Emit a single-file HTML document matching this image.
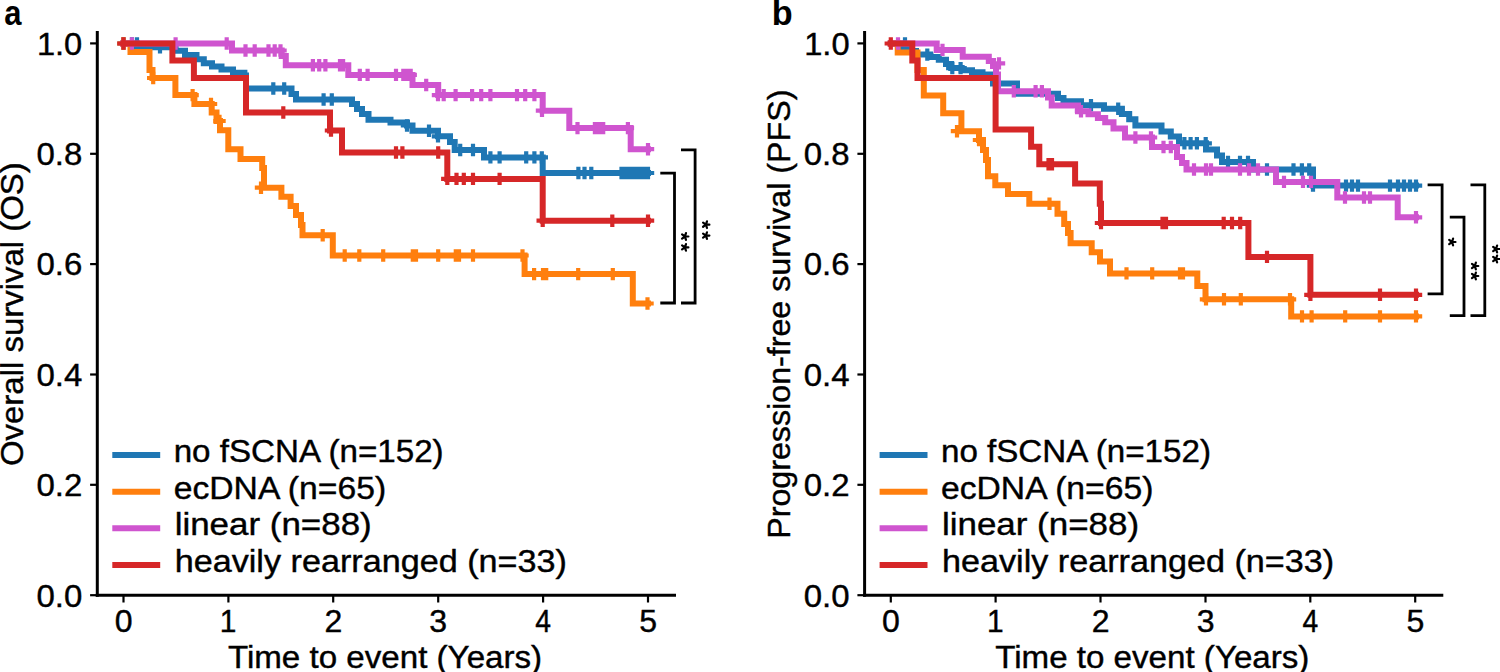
<!DOCTYPE html>
<html><head><meta charset="utf-8"><style>
html,body{margin:0;padding:0;background:#fff;}
svg{display:block;}
text{font-family:"Liberation Sans", sans-serif;font-size:31px;fill:#000;stroke:#000;stroke-width:0.4px;}
</style></head><body>
<svg width="1500" height="672" viewBox="0 0 1500 672">
<rect width="1500" height="672" fill="#fff"/>
<path d="M97.3 31V596.7" stroke="#000" stroke-width="3.0" fill="none"/>
<path d="M95.8 595.2H676.0" stroke="#000" stroke-width="3.0" fill="none"/>
<path d="M90.1 595.2H97.3" stroke="#000" stroke-width="2.2" fill="none"/>
<text x="36.44" y="606.50" textLength="45.84" lengthAdjust="spacingAndGlyphs" >0.0</text>
<path d="M90.1 484.8H97.3" stroke="#000" stroke-width="2.2" fill="none"/>
<text x="36.44" y="496.14" textLength="45.84" lengthAdjust="spacingAndGlyphs" >0.2</text>
<path d="M90.1 374.5H97.3" stroke="#000" stroke-width="2.2" fill="none"/>
<text x="36.44" y="385.78" textLength="45.84" lengthAdjust="spacingAndGlyphs" >0.4</text>
<path d="M90.1 264.1H97.3" stroke="#000" stroke-width="2.2" fill="none"/>
<text x="36.44" y="275.42" textLength="45.84" lengthAdjust="spacingAndGlyphs" >0.6</text>
<path d="M90.1 153.8H97.3" stroke="#000" stroke-width="2.2" fill="none"/>
<text x="36.44" y="165.06" textLength="45.84" lengthAdjust="spacingAndGlyphs" >0.8</text>
<path d="M90.1 43.4H97.3" stroke="#000" stroke-width="2.2" fill="none"/>
<text x="36.90" y="54.70" textLength="45.37" lengthAdjust="spacingAndGlyphs" >1.0</text>
<path d="M123.5 595.2V602.5" stroke="#000" stroke-width="2.2" fill="none"/>
<text x="114.67" y="631.60" textLength="17.82" lengthAdjust="spacingAndGlyphs" >0</text>
<path d="M228.4 595.2V602.5" stroke="#000" stroke-width="2.2" fill="none"/>
<text x="219.67" y="631.60" textLength="16.63" lengthAdjust="spacingAndGlyphs" >1</text>
<path d="M333.2 595.2V602.5" stroke="#000" stroke-width="2.2" fill="none"/>
<text x="324.47" y="631.60" textLength="17.83" lengthAdjust="spacingAndGlyphs" >2</text>
<path d="M438.2 595.2V602.5" stroke="#000" stroke-width="2.2" fill="none"/>
<text x="429.37" y="631.60" textLength="17.83" lengthAdjust="spacingAndGlyphs" >3</text>
<path d="M543.1 595.2V602.5" stroke="#000" stroke-width="2.2" fill="none"/>
<text x="535.30" y="631.60" textLength="15.73" lengthAdjust="spacingAndGlyphs" >4</text>
<path d="M648.0 595.2V602.5" stroke="#000" stroke-width="2.2" fill="none"/>
<text x="639.17" y="631.60" textLength="17.83" lengthAdjust="spacingAndGlyphs" >5</text>
<text x="227.90" y="667.90" textLength="314.22" lengthAdjust="spacingAndGlyphs" >Time to event (Years)</text>
<text transform="translate(23.00 465.00) rotate(-90)" x="-1.06" y="0.00" textLength="303.82" lengthAdjust="spacingAndGlyphs" >Overall survival (OS)</text>
<text x="4.22" y="24.50" textLength="17.21" lengthAdjust="spacingAndGlyphs" style="font-weight:bold;font-size:35px;stroke:none">a</text>
<path d="M112.3 455.0H160.2" stroke="#1f77b4" stroke-width="6" fill="none"/>
<text x="173.66" y="462.20" textLength="269.99" lengthAdjust="spacingAndGlyphs" >no fSCNA (n=152)</text>
<path d="M112.3 491.7H160.2" stroke="#ff7f0e" stroke-width="6" fill="none"/>
<text x="173.71" y="498.70" textLength="212.40" lengthAdjust="spacingAndGlyphs" >ecDNA (n=65)</text>
<path d="M112.3 528.3H160.2" stroke="#cf55cf" stroke-width="6" fill="none"/>
<text x="174.65" y="535.20" textLength="197.10" lengthAdjust="spacingAndGlyphs" >linear (n=88)</text>
<path d="M112.3 565.0H160.2" stroke="#d62728" stroke-width="6" fill="none"/>
<text x="174.70" y="571.70" textLength="392.15" lengthAdjust="spacingAndGlyphs" >heavily rearranged (n=33)</text>
<path d="M864.6 31V596.7" stroke="#000" stroke-width="3.0" fill="none"/>
<path d="M863.1 595.2H1443.3" stroke="#000" stroke-width="3.0" fill="none"/>
<path d="M857.4 595.2H864.6" stroke="#000" stroke-width="2.2" fill="none"/>
<text x="803.74" y="606.50" textLength="45.84" lengthAdjust="spacingAndGlyphs" >0.0</text>
<path d="M857.4 484.8H864.6" stroke="#000" stroke-width="2.2" fill="none"/>
<text x="803.74" y="496.14" textLength="45.84" lengthAdjust="spacingAndGlyphs" >0.2</text>
<path d="M857.4 374.5H864.6" stroke="#000" stroke-width="2.2" fill="none"/>
<text x="803.74" y="385.78" textLength="45.84" lengthAdjust="spacingAndGlyphs" >0.4</text>
<path d="M857.4 264.1H864.6" stroke="#000" stroke-width="2.2" fill="none"/>
<text x="803.74" y="275.42" textLength="45.84" lengthAdjust="spacingAndGlyphs" >0.6</text>
<path d="M857.4 153.8H864.6" stroke="#000" stroke-width="2.2" fill="none"/>
<text x="803.74" y="165.06" textLength="45.84" lengthAdjust="spacingAndGlyphs" >0.8</text>
<path d="M857.4 43.4H864.6" stroke="#000" stroke-width="2.2" fill="none"/>
<text x="804.19" y="54.70" textLength="45.37" lengthAdjust="spacingAndGlyphs" >1.0</text>
<path d="M890.8 595.2V602.5" stroke="#000" stroke-width="2.2" fill="none"/>
<text x="881.97" y="631.60" textLength="17.83" lengthAdjust="spacingAndGlyphs" >0</text>
<path d="M995.6 595.2V602.5" stroke="#000" stroke-width="2.2" fill="none"/>
<text x="986.97" y="631.60" textLength="16.63" lengthAdjust="spacingAndGlyphs" >1</text>
<path d="M1100.5 595.2V602.5" stroke="#000" stroke-width="2.2" fill="none"/>
<text x="1091.77" y="631.60" textLength="17.83" lengthAdjust="spacingAndGlyphs" >2</text>
<path d="M1205.5 595.2V602.5" stroke="#000" stroke-width="2.2" fill="none"/>
<text x="1196.67" y="631.60" textLength="17.83" lengthAdjust="spacingAndGlyphs" >3</text>
<path d="M1310.3 595.2V602.5" stroke="#000" stroke-width="2.2" fill="none"/>
<text x="1302.60" y="631.60" textLength="15.73" lengthAdjust="spacingAndGlyphs" >4</text>
<path d="M1415.2 595.2V602.5" stroke="#000" stroke-width="2.2" fill="none"/>
<text x="1406.47" y="631.60" textLength="17.83" lengthAdjust="spacingAndGlyphs" >5</text>
<text x="995.20" y="667.90" textLength="314.22" lengthAdjust="spacingAndGlyphs" >Time to event (Years)</text>
<text transform="translate(790.00 536.70) rotate(-90)" x="-2.08" y="0.00" textLength="449.14" lengthAdjust="spacingAndGlyphs" >Progression-free survival (PFS)</text>
<text x="771.74" y="24.50" textLength="20.92" lengthAdjust="spacingAndGlyphs" style="font-weight:bold;font-size:35px;stroke:none">b</text>
<path d="M879.6 455.0H927.5" stroke="#1f77b4" stroke-width="6" fill="none"/>
<text x="940.96" y="462.20" textLength="269.99" lengthAdjust="spacingAndGlyphs" >no fSCNA (n=152)</text>
<path d="M879.6 491.7H927.5" stroke="#ff7f0e" stroke-width="6" fill="none"/>
<text x="941.01" y="498.70" textLength="212.40" lengthAdjust="spacingAndGlyphs" >ecDNA (n=65)</text>
<path d="M879.6 528.3H927.5" stroke="#cf55cf" stroke-width="6" fill="none"/>
<text x="941.95" y="535.20" textLength="197.10" lengthAdjust="spacingAndGlyphs" >linear (n=88)</text>
<path d="M879.6 565.0H927.5" stroke="#d62728" stroke-width="6" fill="none"/>
<text x="942.00" y="571.70" textLength="392.15" lengthAdjust="spacingAndGlyphs" >heavily rearranged (n=33)</text>
<path d="M123.5 43.5H137.0V47.2H175.6V50.8H185.0V55.0H196.5V59.2H203.8V63.3H212.0V66.5H221.5V69.6H233.0V72.7H244.4V75.5H246.0V88.5H291.5V94.0H296.0V99.5H352.0V104.0H357.0V109.0H362.0V114.0H368.5V119.8H390.5V122.5H407.0V125.5H412.5V130.8H438.0V136.3H450.0V142.0H454.7V150.0H484.0V157.4H542.7V173.0H648.0" fill="none" stroke="#1f77b4" stroke-width="6.0" stroke-linejoin="miter" stroke-linecap="square"/>
<path d="M117.3 43.5h12.4M123.5 37.3v12.4M125.8 43.5h12.4M132.0 37.3v12.4M130.8 43.5h12.4M137.0 37.3v12.4M153.8 47.2h12.4M160.0 41.0v12.4M267.1 88.5h12.4M273.3 82.3v12.4M278.0 88.5h12.4M284.2 82.3v12.4M317.4 99.5h12.4M323.6 93.3v12.4M325.6 99.5h12.4M331.8 93.3v12.4M400.8 125.5h12.4M407.0 119.3v12.4M422.8 130.8h12.4M429.0 124.6v12.4M431.8 136.3h12.4M438.0 130.1v12.4M454.0 150.0h12.4M460.2 143.8v12.4M466.8 150.0h12.4M473.0 143.8v12.4M484.2 157.4h12.4M490.4 151.2v12.4M493.4 157.4h12.4M499.6 151.2v12.4M520.0 157.4h12.4M526.2 151.2v12.4M528.2 157.4h12.4M534.4 151.2v12.4M535.6 157.4h12.4M541.8 151.2v12.4M572.2 173.0h12.4M578.4 166.8v12.4M578.3 173.0h12.4M584.5 166.8v12.4M585.1 173.0h12.4M591.3 166.8v12.4M615.3 173.0h12.4M621.5 166.8v12.4M618.8 173.0h12.4M625.0 166.8v12.4M622.6 173.0h12.4M628.8 166.8v12.4M625.8 173.0h12.4M632.0 166.8v12.4M628.1 173.0h12.4M634.3 166.8v12.4M630.8 173.0h12.4M637.0 166.8v12.4M633.6 173.0h12.4M639.8 166.8v12.4M636.3 173.0h12.4M642.5 166.8v12.4M639.1 173.0h12.4M645.3 166.8v12.4M641.8 173.0h12.4M648.0 166.8v12.4" fill="none" stroke="#1f77b4" stroke-width="4.2"/>
<path d="M123.5 43.5H130.5V52.0H149.5V70.0H152.5V78.0H175.4V95.1H194.4V104.0H211.7V112.4H216.5V121.0H220.0V130.2H228.3V149.3H240.5V159.0H262.2V168.0H264.0V187.7H281.4V196.8H290.6V206.0H296.0V215.0H301.0V225.0H302.5V235.3H332.8V255.5H524.6V274.1H632.8V303.5H648.0" fill="none" stroke="#ff7f0e" stroke-width="6.0" stroke-linejoin="miter" stroke-linecap="square"/>
<path d="M117.3 43.5h12.4M123.5 37.3v12.4M147.0 78.0h12.4M153.2 71.8v12.4M186.4 95.1h12.4M192.6 88.9v12.4M204.8 104.0h12.4M211.0 97.8v12.4M213.3 121.0h12.4M219.5 114.8v12.4M254.8 187.7h12.4M261.0 181.5v12.4M316.5 235.3h12.4M322.7 229.1v12.4M338.5 255.5h12.4M344.7 249.3v12.4M353.1 255.5h12.4M359.3 249.3v12.4M377.0 255.5h12.4M383.2 249.3v12.4M406.6 255.5h12.4M412.8 249.3v12.4M409.8 255.5h12.4M416.0 249.3v12.4M432.0 255.5h12.4M438.2 249.3v12.4M449.6 255.5h12.4M455.8 249.3v12.4M452.8 255.5h12.4M459.0 249.3v12.4M466.8 255.5h12.4M473.0 249.3v12.4M516.3 255.5h12.4M522.5 249.3v12.4M527.9 274.1h12.4M534.1 267.9v12.4M536.8 274.1h12.4M543.0 267.9v12.4M540.0 274.1h12.4M546.2 267.9v12.4M572.0 274.1h12.4M578.2 267.9v12.4M606.6 274.1h12.4M612.8 267.9v12.4M641.3 303.5h12.4M647.5 297.3v12.4" fill="none" stroke="#ff7f0e" stroke-width="4.2"/>
<path d="M123.5 43.5H232.0V50.5H281.7V56.0H285.8V65.3H348.3V74.9H412.5V85.0H438.2V95.1H542.7V110.7H569.3V128.1H630.7V149.2H648.0" fill="none" stroke="#cf55cf" stroke-width="6.0" stroke-linejoin="miter" stroke-linecap="square"/>
<path d="M125.7 43.5h12.4M131.9 37.3v12.4M169.4 43.5h12.4M175.6 37.3v12.4M220.5 43.5h12.4M226.7 37.3v12.4M239.3 50.5h12.4M245.5 44.3v12.4M248.5 50.5h12.4M254.7 44.3v12.4M262.3 50.5h12.4M268.5 44.3v12.4M268.5 50.5h12.4M274.7 44.3v12.4M274.3 50.5h12.4M280.5 44.3v12.4M306.7 65.3h12.4M312.9 59.1v12.4M313.0 65.3h12.4M319.2 59.1v12.4M319.2 65.3h12.4M325.4 59.1v12.4M333.8 65.3h12.4M340.0 59.1v12.4M336.9 65.3h12.4M343.1 59.1v12.4M353.6 74.9h12.4M359.8 68.7v12.4M361.4 74.9h12.4M367.6 68.7v12.4M389.8 74.9h12.4M396.0 68.7v12.4M397.1 74.9h12.4M403.3 68.7v12.4M400.8 74.9h12.4M407.0 68.7v12.4M404.5 74.9h12.4M410.7 68.7v12.4M420.1 85.0h12.4M426.2 78.8v12.4M431.8 95.1h12.4M438.0 88.9v12.4M437.5 95.1h12.4M443.7 88.9v12.4M449.4 95.1h12.4M455.6 88.9v12.4M465.9 95.1h12.4M472.1 88.9v12.4M475.1 95.1h12.4M481.2 88.9v12.4M484.2 95.1h12.4M490.4 88.9v12.4M510.8 95.1h12.4M517.0 88.9v12.4M519.0 95.1h12.4M525.2 88.9v12.4M528.2 95.1h12.4M534.4 88.9v12.4M535.8 110.7h12.4M542.0 104.5v12.4M571.3 128.1h12.4M577.5 121.9v12.4M588.7 128.1h12.4M594.9 121.9v12.4M592.8 128.1h12.4M599.0 121.9v12.4M597.0 128.1h12.4M603.2 121.9v12.4M621.7 128.1h12.4M627.9 121.9v12.4M641.8 149.2h12.4M648.0 143.0v12.4" fill="none" stroke="#cf55cf" stroke-width="4.2"/>
<path d="M123.5 43.5H172.4V60.5H193.9V78.0H246.0V112.5H330.0V130.5H342.0V152.5H447.3V178.9H542.7V220.7H648.0" fill="none" stroke="#d62728" stroke-width="6.0" stroke-linejoin="miter" stroke-linecap="square"/>
<path d="M117.3 43.5h12.4M123.5 37.3v12.4M277.1 112.5h12.4M283.3 106.3v12.4M324.8 130.5h12.4M331.0 124.3v12.4M389.8 152.5h12.4M396.0 146.3v12.4M396.2 152.5h12.4M402.4 146.3v12.4M432.0 152.5h12.4M438.2 146.3v12.4M441.1 178.9h12.4M447.3 172.7v12.4M450.3 178.9h12.4M456.5 172.7v12.4M457.6 178.9h12.4M463.8 172.7v12.4M466.8 178.9h12.4M473.0 172.7v12.4M493.4 178.9h12.4M499.6 172.7v12.4M536.5 220.7h12.4M542.7 214.5v12.4M606.1 220.7h12.4M612.3 214.5v12.4M641.8 220.7h12.4M648.0 214.5v12.4" fill="none" stroke="#d62728" stroke-width="4.2"/>
<path d="M890.8 43.5H900.0V47.5H910.0V51.0H916.0V54.6H930.0V57.0H938.8V59.8H946.0V64.0H951.2V68.1H961.7V70.2H972.0V72.3H982.5V74.4H993.0V83.5H1017.0V93.8H1058.0V98.0H1063.5V101.3H1081.0V105.2H1104.0V108.8H1121.9V114.0H1129.2V119.2H1135.4V125.5H1161.5V131.4H1170.8V136.5H1179.0V143.3H1206.0V149.5H1217.0V155.5H1222.0V162.0H1253.0V169.5H1313.0V185.6H1416.0" fill="none" stroke="#1f77b4" stroke-width="6.0" stroke-linejoin="miter" stroke-linecap="square"/>
<path d="M898.8 43.5h12.4M905.0 37.3v12.4M921.1 54.6h12.4M927.3 48.4v12.4M946.1 68.1h12.4M952.3 61.9v12.4M954.4 68.1h12.4M960.6 61.9v12.4M1084.8 105.2h12.4M1091.0 99.0v12.4M1112.0 108.8h12.4M1118.2 102.5v12.4M1178.2 143.3h12.4M1184.4 137.1v12.4M1184.4 143.3h12.4M1190.6 137.1v12.4M1190.7 143.3h12.4M1196.9 137.1v12.4M1199.5 143.3h12.4M1205.7 137.1v12.4M1221.8 162.0h12.4M1228.0 155.8v12.4M1233.8 162.0h12.4M1240.0 155.8v12.4M1241.8 162.0h12.4M1248.0 155.8v12.4M1260.8 169.5h12.4M1267.0 163.3v12.4M1287.3 169.5h12.4M1293.5 163.3v12.4M1295.7 169.5h12.4M1301.9 163.3v12.4M1303.0 169.5h12.4M1309.2 163.3v12.4M1306.8 185.6h12.4M1313.0 179.4v12.4M1339.8 185.6h12.4M1346.0 179.4v12.4M1345.8 185.6h12.4M1352.0 179.4v12.4M1351.8 185.6h12.4M1358.0 179.4v12.4M1383.8 185.6h12.4M1390.0 179.4v12.4M1391.8 185.6h12.4M1398.0 179.4v12.4M1397.8 185.6h12.4M1404.0 179.4v12.4M1403.8 185.6h12.4M1410.0 179.4v12.4M1409.8 185.6h12.4M1416.0 179.4v12.4" fill="none" stroke="#1f77b4" stroke-width="4.2"/>
<path d="M890.8 43.5H897.7V52.4H917.5V70.0H923.8V95.5H943.2V113.3H961.4V131.2H979.0V140.0H983.0V150.0H986.0V160.0H988.0V176.2H995.3V185.3H1008.0V194.0H1029.3V203.8H1057.5V213.8H1064.2V223.9H1068.0V233.0H1070.6V243.2H1091.7V252.3H1100.0V261.5H1110.0V273.4H1197.3V286.0H1205.5V299.3H1291.2V316.4H1416.0" fill="none" stroke="#ff7f0e" stroke-width="6.0" stroke-linejoin="miter" stroke-linecap="square"/>
<path d="M950.8 131.2h12.4M957.0 125.0v12.4M972.8 140.0h12.4M979.0 133.8v12.4M1043.3 203.8h12.4M1049.5 197.6v12.4M1120.3 273.4h12.4M1126.5 267.2v12.4M1146.0 273.4h12.4M1152.2 267.2v12.4M1173.8 273.4h12.4M1180.0 267.2v12.4M1176.8 273.4h12.4M1183.0 267.2v12.4M1199.8 299.3h12.4M1206.0 293.1v12.4M1217.8 299.3h12.4M1224.0 293.1v12.4M1234.6 299.3h12.4M1240.8 293.1v12.4M1283.8 299.3h12.4M1290.0 293.1v12.4M1295.8 316.4h12.4M1302.0 310.2v12.4M1305.4 316.4h12.4M1311.6 310.2v12.4M1339.0 316.4h12.4M1345.2 310.2v12.4M1373.8 316.4h12.4M1380.0 310.2v12.4M1409.8 316.4h12.4M1416.0 310.2v12.4" fill="none" stroke="#ff7f0e" stroke-width="4.2"/>
<path d="M890.8 43.5H936.7V49.9H962.7V56.7H988.8V61.0H993.0V66.0H996.0V74.4H998.0V91.2H1048.0V97.5H1051.7V105.4H1078.0V111.2H1088.5V114.3H1097.9V118.0H1105.2V122.3H1113.5V128.5H1125.0V137.5H1152.0V147.0H1177.0V157.0H1182.0V163.0H1186.5V169.5H1276.0V181.9H1337.3V197.5H1397.7V217.3H1416.0" fill="none" stroke="#cf55cf" stroke-width="6.0" stroke-linejoin="miter" stroke-linecap="square"/>
<path d="M891.8 43.5h12.4M898.0 37.3v12.4M936.3 49.9h12.4M942.5 43.7v12.4M992.8 63.4h12.4M999.0 57.2v12.4M1007.5 91.2h12.4M1013.8 85.0v12.4M1029.4 91.2h12.4M1035.6 85.0v12.4M1035.7 91.2h12.4M1041.9 85.0v12.4M1074.8 111.2h12.4M1081.0 105.0v12.4M1129.2 137.5h12.4M1135.4 131.3v12.4M1144.8 137.5h12.4M1151.0 131.3v12.4M1157.3 147.0h12.4M1163.5 140.8v12.4M1164.6 147.0h12.4M1170.8 140.8v12.4M1187.8 169.5h12.4M1194.0 163.3v12.4M1199.8 169.5h12.4M1206.0 163.3v12.4M1204.8 169.5h12.4M1211.0 163.3v12.4M1233.8 169.5h12.4M1240.0 163.3v12.4M1242.8 169.5h12.4M1249.0 163.3v12.4M1251.8 169.5h12.4M1258.0 163.3v12.4M1277.8 181.9h12.4M1284.0 175.7v12.4M1296.8 181.9h12.4M1303.0 175.7v12.4M1304.8 181.9h12.4M1311.0 175.7v12.4M1338.8 197.5h12.4M1345.0 191.3v12.4M1357.8 197.5h12.4M1364.0 191.3v12.4M1363.8 197.5h12.4M1370.0 191.3v12.4M1409.8 217.3h12.4M1416.0 211.1v12.4" fill="none" stroke="#cf55cf" stroke-width="4.2"/>
<path d="M890.8 43.5H912.3V60.5H917.5V78.0H995.6V129.4H1031.1V146.8H1039.3V164.2H1075.1V183.5H1099.8V203.7H1101.0V223.0H1248.4V256.9H1310.4V294.8H1416.0" fill="none" stroke="#d62728" stroke-width="6.0" stroke-linejoin="miter" stroke-linecap="square"/>
<path d="M884.6 43.5h12.4M890.8 37.3v12.4M1042.3 164.2h12.4M1048.5 158.1v12.4M1045.8 164.2h12.4M1052.0 158.1v12.4M1094.8 223.0h12.4M1101.0 216.8v12.4M1156.3 223.0h12.4M1162.5 216.8v12.4M1159.8 223.0h12.4M1166.0 216.8v12.4M1217.5 223.0h12.4M1223.7 216.8v12.4M1225.8 223.0h12.4M1232.0 216.8v12.4M1234.0 223.0h12.4M1240.2 216.8v12.4M1260.8 256.9h12.4M1267.0 250.7v12.4M1304.2 294.8h12.4M1310.4 288.6v12.4M1373.8 294.8h12.4M1380.0 288.6v12.4M1409.8 294.8h12.4M1416.0 288.6v12.4" fill="none" stroke="#d62728" stroke-width="4.2"/>
<path d="M660.3 173.2H674.5V303.0H660.3" stroke="#000" stroke-width="2.8" fill="none" stroke-linejoin="miter"/>
<path d="M684.90 236.50L688.40 236.50M684.90 236.50L685.98 233.17M684.90 236.50L682.07 234.44M684.90 236.50L682.07 238.56M684.90 236.50L685.98 239.83" stroke="#000" stroke-width="2.2" fill="none" stroke-linecap="round"/>
<path d="M684.90 247.40L688.40 247.40M684.90 247.40L685.98 244.07M684.90 247.40L682.07 245.34M684.90 247.40L682.07 249.46M684.90 247.40L685.98 250.73" stroke="#000" stroke-width="2.2" fill="none" stroke-linecap="round"/>
<path d="M681.0 149.8H695.1V303.0H681.0" stroke="#000" stroke-width="2.8" fill="none" stroke-linejoin="miter"/>
<path d="M705.90 224.70L709.40 224.70M705.90 224.70L706.98 221.37M705.90 224.70L703.07 222.64M705.90 224.70L703.07 226.76M705.90 224.70L706.98 228.03" stroke="#000" stroke-width="2.2" fill="none" stroke-linecap="round"/>
<path d="M705.90 235.60L709.40 235.60M705.90 235.60L706.98 232.27M705.90 235.60L703.07 233.54M705.90 235.60L703.07 237.66M705.90 235.60L706.98 238.93" stroke="#000" stroke-width="2.2" fill="none" stroke-linecap="round"/>
<path d="M1427.6 184.8H1442.1V293.8H1427.6" stroke="#000" stroke-width="2.8" fill="none" stroke-linejoin="miter"/>
<path d="M1452.00 242.00L1455.50 242.00M1452.00 242.00L1453.08 238.67M1452.00 242.00L1449.17 239.94M1452.00 242.00L1449.17 244.06M1452.00 242.00L1453.08 245.33" stroke="#000" stroke-width="2.2" fill="none" stroke-linecap="round"/>
<path d="M1449.8 217.1H1464.0V315.7H1449.8" stroke="#000" stroke-width="2.8" fill="none" stroke-linejoin="miter"/>
<path d="M1474.80 266.00L1478.30 266.00M1474.80 266.00L1475.88 262.67M1474.80 266.00L1471.97 263.94M1474.80 266.00L1471.97 268.06M1474.80 266.00L1475.88 269.33" stroke="#000" stroke-width="2.2" fill="none" stroke-linecap="round"/>
<path d="M1474.80 276.00L1478.30 276.00M1474.80 276.00L1475.88 272.67M1474.80 276.00L1471.97 273.94M1474.80 276.00L1471.97 278.06M1474.80 276.00L1475.88 279.33" stroke="#000" stroke-width="2.2" fill="none" stroke-linecap="round"/>
<path d="M1470.5 184.8H1484.8V315.7H1470.5" stroke="#000" stroke-width="2.8" fill="none" stroke-linejoin="miter"/>
<path d="M1496.00 249.00L1499.50 249.00M1496.00 249.00L1497.08 245.67M1496.00 249.00L1493.17 246.94M1496.00 249.00L1493.17 251.06M1496.00 249.00L1497.08 252.33" stroke="#000" stroke-width="2.2" fill="none" stroke-linecap="round"/>
<path d="M1496.00 259.00L1499.50 259.00M1496.00 259.00L1497.08 255.67M1496.00 259.00L1493.17 256.94M1496.00 259.00L1493.17 261.06M1496.00 259.00L1497.08 262.33" stroke="#000" stroke-width="2.2" fill="none" stroke-linecap="round"/>
</svg>
</body></html>
